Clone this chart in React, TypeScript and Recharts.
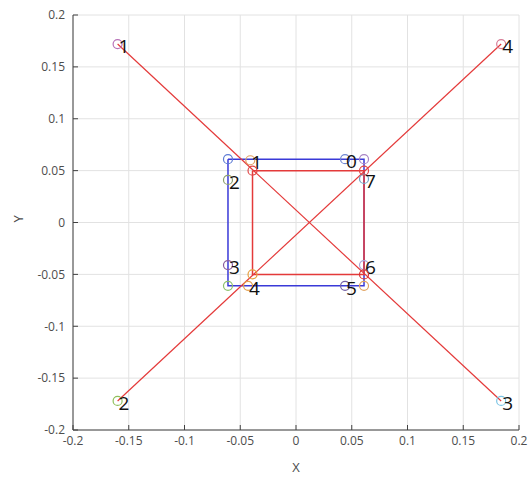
import React from "react";
import {
  ScatterChart,
  Scatter,
  XAxis,
  YAxis,
  CartesianGrid,
} from "recharts";

const axisTicks = [-0.2, -0.15, -0.1, -0.05, 0, 0.05, 0.1, 0.15, 0.2];

// blue square (outer inner box)
const blueX = [-0.061, 0.061, 0.061, -0.061, -0.061];
const blueY = [0.061, 0.061, -0.061, -0.061, 0.061];

// red square
const redX = [-0.039, 0.061, 0.061, -0.039, -0.039];
const redY = [0.05, 0.05, -0.05, -0.05, 0.05];

// red diagonals
const diagAX = [-0.16, 0.184];
const diagAY = [0.172, -0.172];
const diagBX = [-0.16, 0.184];
const diagBY = [-0.172, 0.172];

// circle markers with their numbers
const markX = [
  -0.16, -0.16, 0.184, 0.184,
  0.044, -0.041, -0.061, -0.061, -0.043, 0.044, 0.061, 0.061,
  -0.061, 0.061, -0.061, 0.061,
  -0.039, 0.061, -0.039, 0.061,
];
const markY = [
  0.172, -0.172, -0.172, 0.172,
  0.061, 0.06, 0.041, -0.041, -0.061, -0.061, -0.041, 0.042,
  0.061, 0.061, -0.061, -0.061,
  0.05, 0.05, -0.05, -0.05,
];
const markLabel = [
  "1", "2", "3", "4",
  "0", "1", "2", "3", "4", "5", "6", "7",
  "", "", "", "",
  "", "", "", "",
];
const markColor = [
  "#b872b8", "#8fbf5a", "#7cc4e4", "#d77b95",
  "#6f86d2", "#e2a060", "#8e9f6e", "#8a5c9e", "#e2a050", "#7460a4", "#a8a6dc", "#6fa0c4",
  "#5d7bd4", "#a883c4", "#8cc06c", "#e2a462",
  "#e04848", "#e04848", "#e6a040", "#d83434",
];

const toPts = (xs: number[], ys: number[]) => xs.map((x, i) => ({ x, y: ys[i] }));

const markers = markX.map((x, i) => ({
  x,
  y: markY[i],
  label: markLabel[i],
  color: markColor[i],
}));

const fmt = (v: number) => String(v);

const NoDot = () => <g />;

const Marker = (props: any) => {
  const { cx, cy, payload } = props;
  return (
    <g>
      <circle cx={cx} cy={cy} r={4.5} fill="none" stroke={payload.color} strokeWidth={1.2} />
      {payload.label ? (
        <text
          x={cx + 1}
          y={cy + 2}
          fontSize={19}
          fontFamily="'Open Sans', sans-serif"
          fill="#111"
          dominantBaseline="central"
        >
          {payload.label}
        </text>
      ) : null}
    </g>
  );
};

const tickStyle = { fontSize: 12, fill: "#4d4d4d", fontFamily: "'Open Sans', sans-serif" };

export default function App() {
  return (
    <div style={{ position: "absolute", left: 0, top: 0, background: "#fff" }}>
      <ScatterChart
        width={530}
        height={483}
        margin={{ top: 15, right: 11, bottom: 0, left: 0 }}
      >
        <CartesianGrid stroke="#e2e2e2" strokeWidth={1} />
        <XAxis
          type="number"
          dataKey="x"
          domain={[-0.2, 0.2]}
          ticks={axisTicks}
          tickFormatter={fmt}
          height={53}
          stroke="#404040"
          tickSize={-5}
          tickMargin={11}
          tick={tickStyle}
          allowDataOverflow
          label={{
            value: "X",
            position: "insideBottom",
            offset: 11,
            style: { fontSize: 13, fill: "#4d4d4d", fontFamily: "'Open Sans', sans-serif" },
          }}
        />
        <YAxis
          type="number"
          dataKey="y"
          domain={[-0.2, 0.2]}
          ticks={axisTicks}
          tickFormatter={fmt}
          width={73}
          stroke="#404040"
          tickSize={-5}
          tickMargin={13}
          tick={tickStyle}
          allowDataOverflow
          label={{
            value: "Y",
            angle: -90,
            position: "insideLeft",
            offset: 18,
            style: { fontSize: 13, fill: "#4d4d4d", fontFamily: "'Open Sans', sans-serif" },
          }}
        />
        <Scatter
          data={toPts(blueX, blueY)}
          line={{ stroke: "#3a3ad8", strokeWidth: 1.5 }}
          shape={NoDot}
          isAnimationActive={false}
        />
        <Scatter
          data={toPts(redX, redY)}
          line={{ stroke: "#e43a3a", strokeWidth: 1.5 }}
          shape={NoDot}
          isAnimationActive={false}
        />
        <Scatter
          data={toPts(diagAX, diagAY)}
          line={{ stroke: "#e43a3a", strokeWidth: 1.2 }}
          shape={NoDot}
          isAnimationActive={false}
        />
        <Scatter
          data={toPts(diagBX, diagBY)}
          line={{ stroke: "#e43a3a", strokeWidth: 1.2 }}
          shape={NoDot}
          isAnimationActive={false}
        />
        <Scatter data={markers} shape={Marker} isAnimationActive={false} />
      </ScatterChart>
    </div>
  );
}
